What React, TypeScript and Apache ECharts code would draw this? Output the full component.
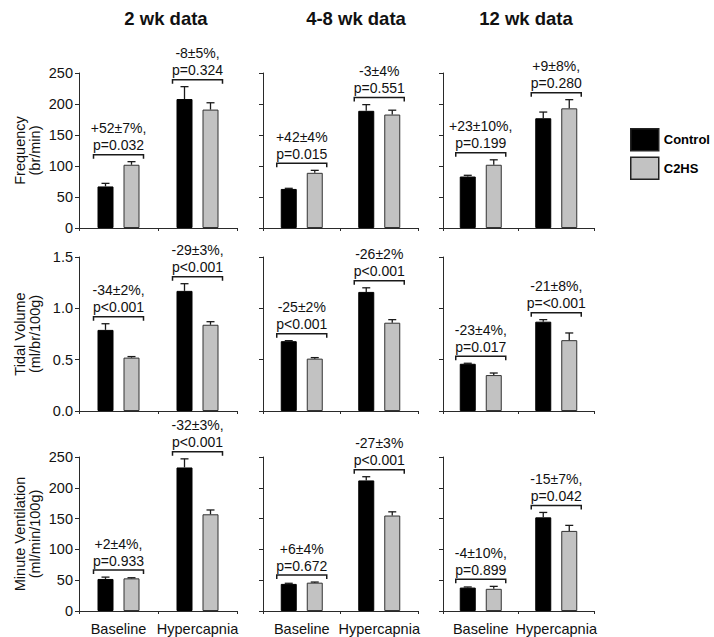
import React, { useEffect, useRef } from "react";
import * as echarts from "echarts";

// ---------- data ----------
const categories = ["Baseline", "Hypercapnia"];
const columnTitles = ["2 wk data", "4-8 wk data", "12 wk data"];
const rowNames = ["Frequency\n(br/min)", "Tidal Volume\n(ml/br/100g)", "Minute Ventilation\n(ml/min/100g)"];

// Frequency [column][category]
const freqControl = [[67, 208], [63, 189], [83, 177]];
const freqControlErr = [[5, 20], [1, 10], [2, 10]];
const freqC2HS = [[102, 191], [89, 183], [102, 193]];
const freqC2HSErr = [[5, 11], [4, 7], [8, 14]];

// Tidal volume
const tidalControl = [[0.79, 1.17], [0.68, 1.16], [0.46, 0.87]];
const tidalControlErr = [[0.06, 0.07], [0.005, 0.04], [0.005, 0.02]];
const tidalC2HS = [[0.52, 0.84], [0.51, 0.86], [0.35, 0.69]];
const tidalC2HSErr = [[0.01, 0.03], [0.01, 0.03], [0.02, 0.07]];

// Minute ventilation
const mvControl = [[52, 233], [44, 212], [38, 152]];
const mvControlErr = [[3, 14], [1, 6], [1, 8]];
const mvC2HS = [[53, 157], [46, 155], [36, 130]];
const mvC2HSErr = [[1, 7], [1, 6], [4, 9]];

// annotation texts [column][category]
const freqPct = [["+52±7%,", "-8±5%,"], ["+42±4%", "-3±4%"], ["+23±10%,", "+9±8%,"]];
const freqP = [["p=0.032", "p=0.324"], ["p=0.015", "p=0.551"], ["p=0.199", "p=0.280"]];
const tidalPct = [["-34±2%,", "-29±3%,"], ["-25±2%", "-26±2%"], ["-23±4%,", "-21±8%,"]];
const tidalP = [["p<0.001", "p<0.001"], ["p<0.001", "p<0.001"], ["p=0.017", "p=<0.001"]];
const mvPct = [["+2±4%,", "-32±3%,"], ["+6±4%", "-27±3%"], ["-4±10%,", "-15±7%,"]];
const mvP = [["p=0.933", "p<0.001"], ["p=0.672", "p<0.001"], ["p=0.899", "p=0.042"]];

// y axis scales per row
const yMax = [250, 1.5, 250];
const yInterval = [50, 0.5, 50];
const yDecimals = [0, 1, 0];

// ---------- layout ----------
const FONT = "'Liberation Sans', Arial, Helvetica, sans-serif";
const colLeft = [79, 263, 443];
const colWidth = [158, 155, 151];
const rowTop = [73, 257, 457];
const rowHeight = [155, 154, 154];
const BAR_W = 16;
const BAR_GAP_PX = 10;

const rowsData = [
  { c: freqControl, ce: freqControlErr, g: freqC2HS, ge: freqC2HSErr, pct: freqPct, p: freqP },
  { c: tidalControl, ce: tidalControlErr, g: tidalC2HS, ge: tidalC2HSErr, pct: tidalPct, p: tidalP },
  { c: mvControl, ce: mvControlErr, g: mvC2HS, ge: mvC2HSErr, pct: mvPct, p: mvP },
];

function buildOption() {
  const grid: any[] = [];
  const xAxis: any[] = [];
  const yAxis: any[] = [];
  const series: any[] = [];
  const axisColor = "#2a2a2a";
  for (let r = 0; r < 3; r++) {
    for (let c = 0; c < 3; c++) {
      const idx = r * 3 + c;
      grid.push({ left: colLeft[c], top: rowTop[r], width: colWidth[c], height: rowHeight[r] });
      xAxis.push({
        type: "category",
        gridIndex: idx,
        data: categories,
        boundaryGap: true,
        axisLine: { show: true, lineStyle: { color: axisColor, width: 1 } },
        axisTick: { show: true, length: 3, lineStyle: { color: axisColor } },
        axisLabel: {
          show: r === 2,
          interval: 0,
          hideOverlap: false,
          fontSize: 14.5,
          fontFamily: FONT,
          color: "#111",
          margin: 10,
        },
      });
      yAxis.push({
        type: "value",
        gridIndex: idx,
        min: 0,
        max: yMax[r],
        interval: yInterval[r],
        splitLine: { show: false },
        axisLine: { show: true, lineStyle: { color: axisColor, width: 1 } },
        axisTick: { show: true, length: 4, lineStyle: { color: axisColor } },
        axisLabel: {
          show: c === 0,
          fontSize: 14.5,
          fontFamily: FONT,
          color: "#111",
          margin: 6,
          formatter: (v: number) => v.toFixed(yDecimals[r]),
        },
        name: c === 0 ? rowNames[r] : "",
        nameLocation: "middle",
        nameGap: 37,
        nameTextStyle: { fontSize: 14.5, fontFamily: FONT, color: "#111", lineHeight: 15 },
      });
      const d = rowsData[r];
      series.push({
        type: "bar",
        name: "Control",
        xAxisIndex: idx,
        yAxisIndex: idx,
        data: d.c[c],
        barWidth: BAR_W,
        barGap: (BAR_GAP_PX / BAR_W) * 100 + "%",
        itemStyle: { color: "#000000", borderColor: "#000000", borderWidth: 1 },
      });
      series.push({
        type: "bar",
        name: "C2HS",
        xAxisIndex: idx,
        yAxisIndex: idx,
        data: d.g[c],
        barWidth: BAR_W,
        barGap: (BAR_GAP_PX / BAR_W) * 100 + "%",
        itemStyle: { color: "#c2c2c2", borderColor: "#333333", borderWidth: 1 },
      });
      const cdata = categories.map((_, k) => [k, d.c[c][k], d.ce[c][k], d.g[c][k], d.ge[c][k]]);
      const pct = d.pct[c];
      const pv = d.p[c];
      series.push({
        type: "custom",
        xAxisIndex: idx,
        yAxisIndex: idx,
        z: 5,
        clip: false,
        silent: true,
        encode: { x: 0, y: 1 },
        data: cdata,
        renderItem: (params: any, api: any) => {
          const k = api.value(0);
          const cv = api.value(1);
          const ce = api.value(2);
          const gv = api.value(3);
          const ge = api.value(4);
          const center = api.coord([k, 0]);
          const cx = center[0];
          const off = (BAR_W + BAR_GAP_PX) / 2;
          const xc = cx - off;
          const xg = cx + off;
          const yc0 = api.coord([k, cv])[1];
          const yc1 = api.coord([k, cv + ce])[1];
          const yg0 = api.coord([k, gv])[1];
          const yg1 = api.coord([k, gv + ge])[1];
          const ls = { stroke: "#1a1a1a", lineWidth: 1.3 };
          const cap = 4;
          const yb = Math.min(yc1, yg1) - 7;
          const half = 25;
          const children: any[] = [
            { type: "line", shape: { x1: xc, y1: yc0, x2: xc, y2: yc1 }, style: ls },
            { type: "line", shape: { x1: xc - cap, y1: yc1, x2: xc + cap, y2: yc1 }, style: ls },
            { type: "line", shape: { x1: xg, y1: yg0, x2: xg, y2: yg1 }, style: ls },
            { type: "line", shape: { x1: xg - cap, y1: yg1, x2: xg + cap, y2: yg1 }, style: ls },
            {
              type: "polyline",
              shape: { points: [[cx - half, yb + 4], [cx - half, yb], [cx + half, yb], [cx + half, yb + 4]] },
              style: { stroke: "#1a1a1a", lineWidth: 1.5, fill: "none" },
            },
            {
              type: "text",
              x: cx,
              y: yb - 1,
              style: {
                text: pct[k] + "\n" + pv[k],
                fill: "#111",
                fontSize: 14,
                fontFamily: FONT,
                lineHeight: 17,
                align: "center",
                verticalAlign: "bottom",
              },
            },
          ];
          return { type: "group", children };
        },
      });
    }
  }

  const titleCenters = [161, 351, 521];
  const title = columnTitles.map((t, i) => ({
    text: t,
    left: titleCenters[i],
    top: 4,
    textAlign: "center",
    textStyle: { fontSize: 18.5, fontWeight: "bold", fontFamily: FONT, color: "#111" },
  }));

  return {
    animation: false,
    backgroundColor: "#ffffff",
    title,
    legend: {
      data: ["Control", "C2HS"],
      orient: "vertical",
      left: 630,
      top: 128,
      itemWidth: 28,
      itemHeight: 22,
      itemGap: 5,
      itemTextGap: 3,
      padding: 0,
      icon: "rect",
      selectedMode: false,
      textStyle: { fontSize: 13, fontWeight: "bold", fontFamily: FONT, color: "#000" },
      itemStyle: { borderWidth: 1.5, borderColor: "#222" },
    },
    grid,
    xAxis,
    yAxis,
    series,
  };
}

export default function App() {
  const ref = useRef<HTMLDivElement>(null);
  useEffect(() => {
    if (!ref.current) return;
    const chart = echarts.init(ref.current, undefined, { renderer: "svg" });
    chart.setOption(buildOption() as any);
    return () => chart.dispose();
  }, []);
  return (
    <div
      ref={ref}
      style={{ position: "fixed", left: 0, top: 0, width: 714, height: 637, background: "#fff" }}
    />
  );
}
